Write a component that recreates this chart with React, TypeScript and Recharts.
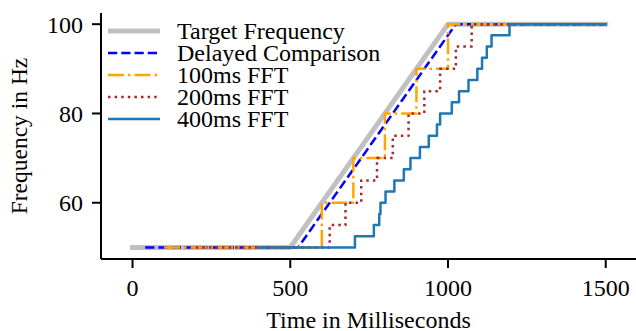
import { LineChart, Line, XAxis, YAxis, Label } from "recharts";

// times in ms, values in Hz
const targetTimes = [0, 500, 1000, 1500];
const targetValues = [50, 50, 100, 100];

const delayedTimes = [40, 525, 1025, 1500];
const delayedValues = [50, 50, 100, 100];

const fft100Times = [100, 600, 700, 800, 900, 1000, 1500];
const fft100Values = [50, 60, 70, 80, 90, 100, 100];

const fft200Times = [200, 625, 675, 725, 775, 825, 875, 925, 975, 1025, 1075, 1500];
const fft200Values = [50, 55, 60, 65, 70, 75, 80, 85, 90, 95, 100, 100];

const fft400Times = [
  400, 705, 765, 782, 786, 802, 830, 860, 881, 911, 939, 965, 975, 1012, 1035,
  1065, 1093, 1108, 1123, 1138, 1195, 1500,
];
const fft400Values = [
  50, 52.5, 55, 57.5, 60, 62.5, 65, 67.5, 70, 72.5, 75, 77.5, 80, 82.5, 85,
  87.5, 90, 92.5, 95, 97.5, 100, 100,
];

const xTicks = [0, 500, 1000, 1500];
const yTicks = [60, 80, 100];

const FONT = '"Liberation Serif", "Times New Roman", serif';

const toPoints = (ts: number[], vs: number[]) =>
  ts.map((t, i) => ({ t, v: vs[i] }));

interface Series {
  name: string;
  data: { t: number; v: number }[];
  color: string;
  width: number;
  dash?: string;
  step: boolean;
  cap: "square" | "butt";
}

const series: Series[] = [
  { name: "Target Frequency", data: toPoints(targetTimes, targetValues), color: "#c0c0c0", width: 5, step: false, cap: "square" },
  { name: "Delayed Comparison", data: toPoints(delayedTimes, delayedValues), color: "#0000ff", width: 2.5, dash: "9.25 4", step: false, cap: "butt" },
  { name: "100ms FFT", data: toPoints(fft100Times, fft100Values), color: "#ffa500", width: 2.5, dash: "16 4 2.5 4", step: true, cap: "butt" },
  { name: "200ms FFT", data: toPoints(fft200Times, fft200Values), color: "#a52a2a", width: 2.5, dash: "2.5 4.1", step: true, cap: "butt" },
  { name: "400ms FFT", data: toPoints(fft400Times, fft400Values), color: "#1f77b4", width: 2.5, step: true, cap: "square" },
];

function LegendBox() {
  return (
    <div style={{ position: "absolute", left: 106, top: 20, fontFamily: FONT, fontSize: 24 }}>
      {series.map((s, i) => (
        <div
          key={s.name}
          style={{ position: "absolute", top: i * 21.9, left: 0, height: 22, lineHeight: "22px", whiteSpace: "nowrap", display: "flex" }}
        >
          <svg width={58} height={22} style={{ display: "block" }}>
            <line
              x1={2}
              x2={54}
              y1={11}
              y2={11}
              stroke={s.color}
              strokeWidth={s.width}
              strokeDasharray={s.dash}
              strokeLinecap="butt"
            />
          </svg>
          <span style={{ marginLeft: 13, color: "#000" }}>{s.name}</span>
        </div>
      ))}
    </div>
  );
}

export default function App() {
  const tickStyle = { fontSize: 24, fill: "#000", fontFamily: FONT };
  return (
    <div style={{ position: "absolute", left: 0, top: 0, width: 636, height: 331, background: "#fff" }}>
      <LineChart
        width={636}
        height={331}
        margin={{ top: 13, right: 0, bottom: 0, left: 0 }}
        style={{ fontFamily: FONT }}
      >
        <XAxis
          xAxisId="top"
          orientation="top"
          type="number"
          domain={[-100, 1596]}
          height={0}
          tick={false}
          tickLine={false}
          axisLine={{ stroke: "#000", strokeWidth: 2 }}
        />
        <XAxis
          dataKey="t"
          type="number"
          domain={[-100, 1596]}
          allowDataOverflow
          ticks={xTicks}
          height={72}
          tickSize={9}
          tickMargin={11}
          tick={tickStyle}
          tickLine={{ stroke: "#000", strokeWidth: 2 }}
          axisLine={{ stroke: "#000", strokeWidth: 2 }}
        >
          <Label
            content={({ viewBox }: any) => (
              <text
                x={viewBox.x + viewBox.width / 2}
                y={viewBox.y + 68.5}
                textAnchor="middle"
                fontSize={24}
                fontFamily={FONT}
                fill="#000"
              >
                Time in Milliseconds
              </text>
            )}
          />
        </XAxis>
        <YAxis
          type="number"
          domain={[47.4, 102.5]}
          allowDataOverflow
          ticks={yTicks}
          width={101}
          tickSize={9}
          tickMargin={9}
          tick={tickStyle}
          tickLine={{ stroke: "#000", strokeWidth: 2 }}
          axisLine={{ stroke: "#000", strokeWidth: 2 }}
        >
          <Label
            content={({ viewBox }: any) => {
              const cy = viewBox.y + viewBox.height / 2;
              const cx = viewBox.x + 19;
              return (
                <text
                  x={cx}
                  y={cy}
                  transform={`rotate(-90 ${cx} ${cy})`}
                  textAnchor="middle"
                  dominantBaseline="central"
                  fontSize={23.5}
                  fontFamily={FONT}
                  fill="#000"
                >
                  Frequency in Hz
                </text>
              );
            }}
          />
        </YAxis>
        {series.map((s) => (
          <Line
            key={s.name}
            data={s.data}
            dataKey="v"
            name={s.name}
            type={s.step ? "stepAfter" : "linear"}
            stroke={s.color}
            strokeWidth={s.width}
            strokeDasharray={s.dash}
            strokeLinecap={s.cap}
            strokeLinejoin="round"
            dot={false}
            activeDot={false}
            isAnimationActive={false}
          />
        ))}
      </LineChart>
      <LegendBox />
    </div>
  );
}
